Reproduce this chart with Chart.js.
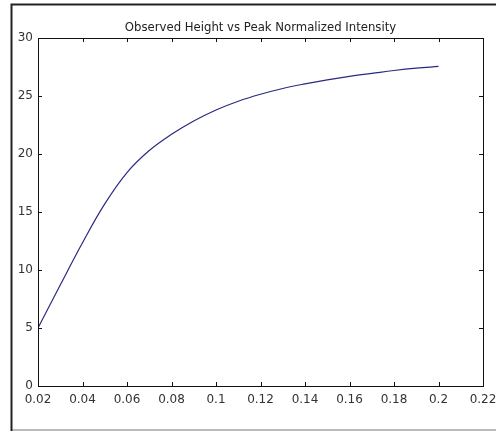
<!DOCTYPE html>
<html>
<head>
<meta charset="utf-8">
<script src="https://cdn.jsdelivr.net/npm/chart.js@4/dist/chart.umd.min.js"></script>
<style>
  html, body { margin: 0; padding: 0; background: #fff; }
  #wrap { width: 496px; height: 434px; position: relative; }
</style>
</head>
<body>
<div id="wrap"><canvas id="heightChart" width="496" height="434"></canvas></div>
<script>
// peak normalized intensity (x) and observed height (y)
const intensity = [0.02, 0.03, 0.04, 0.05, 0.06, 0.07, 0.08, 0.09, 0.10, 0.11,
                   0.12, 0.13, 0.14, 0.15, 0.16, 0.17, 0.18, 0.19, 0.20];
const observedHeight = [5.0, 8.7, 12.35, 15.7, 18.4, 20.3, 21.7, 22.85, 23.8, 24.55,
                        25.15, 25.65, 26.05, 26.4, 26.7, 26.95, 27.2, 27.4, 27.55];
const xTicks = [0.02, 0.04, 0.06, 0.08, 0.1, 0.12, 0.14, 0.16, 0.18, 0.2, 0.22];
const yTicks = [0, 5, 10, 15, 20, 25, 30];

const points = intensity.map((x, i) => ({ x: x, y: observedHeight[i] }));

// outer figure frame, axes box and inward tick marks
const frameAndTicks = {
    id: 'frameAndTicks',
    beforeDraw(chart) {
        const c = chart.ctx;
        c.save();
        c.fillStyle = '#fff';
        c.fillRect(0, 0, chart.width, chart.height);
        c.strokeStyle = '#bbb';
        c.lineWidth = 2;
        c.beginPath();
        c.moveTo(11, 430); c.lineTo(chart.width, 430);
        c.stroke();
        c.strokeStyle = '#222';
        c.beginPath();
        c.moveTo(11.5, 431); c.lineTo(11.5, 4.5); c.lineTo(chart.width, 4.5);
        c.stroke();
        c.restore();
    },
    afterDraw(chart) {
        const c = chart.ctx;
        const a = chart.chartArea;
        const xs = chart.scales.x, ys = chart.scales.y;
        c.save();
        c.strokeStyle = '#111';
        c.lineWidth = 1;
        c.strokeRect(Math.round(a.left) + 0.5, Math.round(a.top) + 0.5,
                     Math.round(a.right - a.left), Math.round(a.bottom - a.top));
        c.beginPath();
        xTicks.forEach(v => {
            const px = Math.round(xs.getPixelForValue(v)) + 0.5;
            c.moveTo(px, a.bottom); c.lineTo(px, a.bottom - 4);
            c.moveTo(px, a.top); c.lineTo(px, a.top + 4);
        });
        yTicks.forEach(v => {
            const py = Math.round(ys.getPixelForValue(v)) + 0.5;
            c.moveTo(a.left, py); c.lineTo(a.left + 4, py);
            c.moveTo(a.right, py); c.lineTo(a.right - 4, py);
        });
        c.stroke();
        c.restore();
    }
};

const ctx = document.getElementById('heightChart').getContext('2d');
const chart = new Chart(ctx, {
    type: 'line',
    data: {
        datasets: [{
            data: points,
            borderColor: '#2a2a80',
            borderWidth: 1.2,
            pointRadius: 0,
            tension: 0.4,
            fill: false
        }]
    },
    options: {
        responsive: false,
        animation: false,
        layout: { padding: { left: 0, right: 13, top: 0, bottom: 0 } },
        plugins: {
            legend: { display: false },
            tooltip: { enabled: false },
            title: {
                display: true,
                fullSize: false,
                text: 'Observed Height vs Peak Normalized Intensity',
                color: '#222',
                font: { family: 'DejaVu Sans', size: 11.7, weight: 'normal' },
                padding: { top: 21, bottom: 3 }
            }
        },
        scales: {
            x: {
                type: 'linear',
                min: 0.02,
                max: 0.22,
                afterBuildTicks: s => { s.ticks = xTicks.map(v => ({ value: v })); },
                afterFit: s => { s.height = 48; s.paddingLeft = 0; s.paddingRight = 0; },
                grid: { display: false, drawTicks: false },
                border: { display: false },
                ticks: {
                    color: '#333',
                    padding: 7,
                    maxRotation: 0,
                    autoSkip: false,
                    font: { family: 'DejaVu Sans', size: 12 },
                    callback: v => String(+v.toFixed(2))
                }
            },
            y: {
                min: 0,
                max: 30,
                afterBuildTicks: s => { s.ticks = yTicks.map(v => ({ value: v })); },
                afterFit: s => { s.width = 38; s.paddingTop = 0; s.paddingBottom = 0; },
                grid: { display: false, drawTicks: false },
                border: { display: false },
                ticks: {
                    color: '#333',
                    padding: 5,
                    font: { family: 'DejaVu Sans', size: 12 }
                }
            }
        }
    },
    plugins: [frameAndTicks]
});
</script>
</body>
</html>
